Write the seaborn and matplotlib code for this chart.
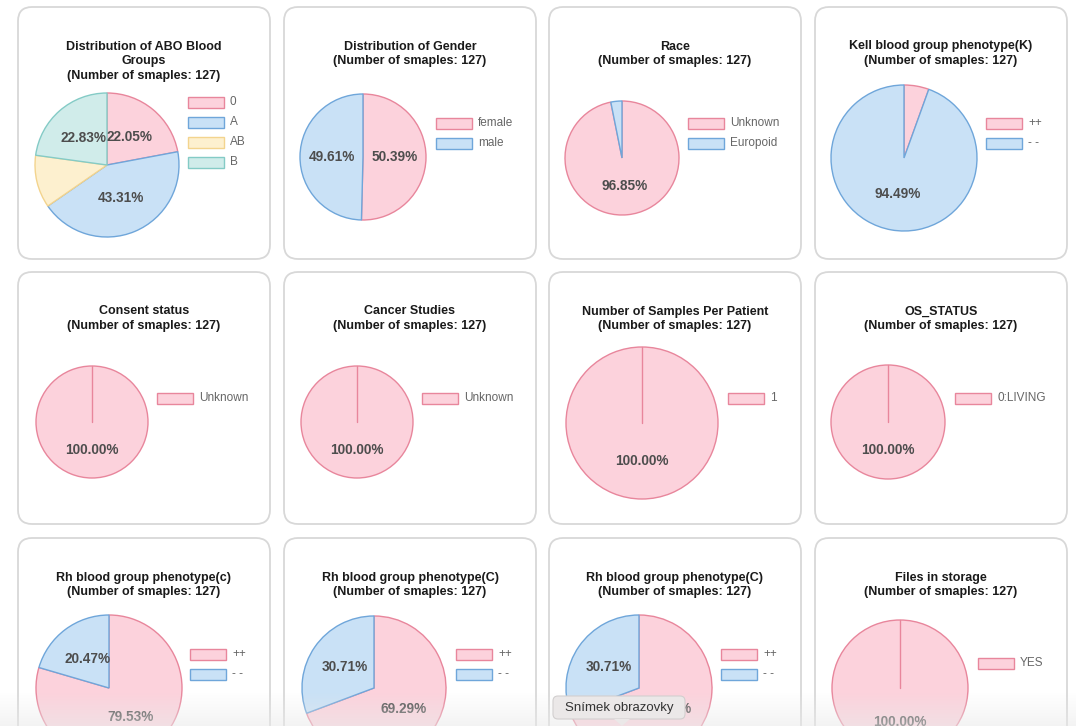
import numpy as np
import matplotlib
matplotlib.use("Agg")
import matplotlib.pyplot as plt
from matplotlib.patches import FancyBboxPatch, Polygon
import seaborn as sns

sns.set_theme(style="white")
plt.rcParams["font.family"] = ["Liberation Sans", "DejaVu Sans"]

# ── data ─────────────────────────────────────────────────────────────────────
titles = [
    "Distribution of ABO Blood\nGroups\n(Number of smaples: 127)",
    "Distribution of Gender\n(Number of smaples: 127)",
    "Race\n(Number of smaples: 127)",
    "Kell blood group phenotype(K)\n(Number of smaples: 127)",
    "Consent status\n(Number of smaples: 127)",
    "Cancer Studies\n(Number of smaples: 127)",
    "Number of Samples Per Patient\n(Number of smaples: 127)",
    "OS_STATUS\n(Number of smaples: 127)",
    "Rh blood group phenotype(c)\n(Number of smaples: 127)",
    "Rh blood group phenotype(C)\n(Number of smaples: 127)",
    "Rh blood group phenotype(C)\n(Number of smaples: 127)",
    "Files in storage\n(Number of smaples: 127)",
]
slice_labels = [
    ["0", "A", "AB", "B"],
    ["female", "male"],
    ["Unknown", "Europoid"],
    ["++", "- -"],
    ["Unknown"],
    ["Unknown"],
    ["1"],
    ["0:LIVING"],
    ["++", "- -"],
    ["++", "- -"],
    ["++", "- -"],
    ["YES"],
]
slice_counts = [
    [28, 55, 15, 29],
    [64, 63],
    [123, 4],
    [7, 120],
    [127],
    [127],
    [127],
    [127],
    [101, 26],
    [88, 39],
    [88, 39],
    [127],
]

# Chart.js-like palette (fill, border)
FACES = ["#fcd2dc", "#c9e1f6", "#fdf0cf", "#d0ecea"]
EDGES = ["#e8869c", "#6fa6da", "#f3d48e", "#84cbc6"]

# ── layout (pixels) ──────────────────────────────────────────────────────────
W, H = 1076, 726
card_x = [18, 284, 549, 815]
card_y = [7, 272, 538]
card_w, card_h = 252, 252
pies = [(107, 165, 72), (363, 157, 63), (622, 158, 57), (904, 158, 73),
        (92, 422, 56), (357, 422, 56), (642, 423, 76), (888, 422, 57),
        (109, 688, 73), (374, 688, 72), (639, 688, 73), (900, 688, 68)]
legend_pos = [(188, 102), (436, 123), (688, 123), (986, 123),
              (157, 398), (422, 398), (728, 398), (955, 398),
              (190, 654), (456, 654), (721, 654), (978, 663)]

fig = plt.figure(figsize=(W / 100, H / 100), dpi=100)
fig.patch.set_facecolor("white")

bg = fig.add_axes([0, 0, 1, 1])
bg.set_xlim(0, W); bg.set_ylim(H, 0); bg.axis("off")

for i in range(12):
    x0 = card_x[i % 4]; y0 = card_y[i // 4]
    bg.add_patch(FancyBboxPatch((x0, y0), card_w, card_h,
                                boxstyle="round,pad=0,rounding_size=14",
                                fc="white", ec="#d8d8d8", lw=1.3))
    bg.text(x0 + card_w / 2, y0 + 33.5, titles[i], ha="center", va="top",
            fontsize=9, fontweight="bold", color="#1a1a1a", linespacing=1.3)

    # legend: boxes + labels
    lx, ly = legend_pos[i]
    for j, lab in enumerate(slice_labels[i]):
        yy = ly + 20 * j
        bg.add_patch(plt.Rectangle((lx, yy - 5.5), 36, 11, fc=FACES[j],
                                   ec=EDGES[j], lw=1.0))
        bg.text(lx + 42, yy, lab, ha="left", va="center", fontsize=8.5,
                color="#666666")

L = 1.03
for i in range(12):
    cx, cy, r = pies[i]
    rr = r * L
    ax = fig.add_axes([(cx - rr) / W, 1 - (cy + rr) / H, 2 * rr / W, 2 * rr / H])
    n = len(slice_counts[i])
    wedges, texts, autotexts = ax.pie(
        slice_counts[i], colors=FACES[:n], startangle=90, counterclock=False,
        autopct=lambda p: f"{p:.2f}%" if p >= 15 else "",
        pctdistance=0.5,
        wedgeprops=dict(linewidth=1.0),
        textprops=dict(color="#4d4d4d", fontweight="bold", fontsize=9.8))
    for w, ec in zip(wedges, EDGES):
        w.set_edgecolor(ec)
    if n == 1:
        ax.plot([0, 0], [0, 1], color=EDGES[0], lw=1.0)
    ax.set_xlim(-L, L); ax.set_ylim(-L, L)
    ax.axis("off")

# ── screen overlay: bottom fade + screenshot tooltip ─────────────────────────
ov = fig.add_axes([0, 0, 1, 1])
ov.set_xlim(0, W); ov.set_ylim(H, 0); ov.axis("off")
ov.patch.set_alpha(0)
grad = np.zeros((40, 2, 4))
grad[..., :3] = 0.92
grad[..., 3] = np.linspace(0.0, 0.55, 40)[:, None]
ov.imshow(grad, extent=(0, W, H, 692), aspect="auto", zorder=5)
ov.add_patch(FancyBboxPatch((553, 696), 132, 23,
                            boxstyle="round,pad=0,rounding_size=5",
                            fc="#ebe8e8", ec="#d2cfcf", lw=0.8, zorder=6))
ov.add_patch(Polygon([(614, 719), (630, 719), (622, 726)], closed=True,
                     fc="#ebe8e8", ec="none", zorder=6))
ov.text(619, 707.5, "Snímek obrazovky", ha="center", va="center",
        fontsize=9.5, color="#333333", zorder=7)
ov.set_xlim(0, W); ov.set_ylim(H, 0)

fig.savefig("out.png", dpi=100)
